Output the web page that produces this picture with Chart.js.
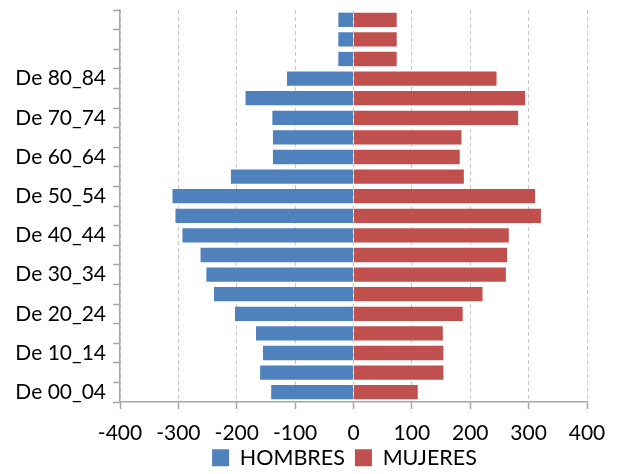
<!DOCTYPE html>
<html>
<head>
<meta charset="utf-8">
<script src="https://cdn.jsdelivr.net/npm/chart.js@4"></script>
<style>
  html, body { margin: 0; padding: 0; background: #fff; }
  #wrap { width: 618px; height: 474px; }
</style>
</head>
<body>
<div id="wrap"><canvas id="c" width="618" height="474"></canvas></div>
<script>
// Age groups, bottom to top
const categories = ['De 00_04','De 05_09','De 10_14','De 15_19','De 20_24','De 25_29','De 30_34','De 35_39','De 40_44','De 45_49','De 50_54','De 55_59','De 60_64','De 65_69','De 70_74','De 75_79','De 80_84','De 85_89','De 90_94','De 95_99'];
// Labels shown on the axis (every other group, top groups unlabeled)
const tickLabels = ['De 00_04','','De 10_14','','De 20_24','','De 30_34','','De 40_44','','De 50_54','','De 60_64','','De 70_74','','De 80_84','','',''];
// Men (plotted as negative values)
const hombres = [-141,-160,-155,-167,-203,-239,-252,-262,-293,-305,-310,-210,-138,-138,-139,-185,-114,-26,-26,-26];
// Women
const mujeres = [110,154,154,153,187,221,261,263,266,321,311,189,182,185,282,294,245,74,74,74];
const xTicks = [-400,-300,-200,-100,0,100,200,300,400];

const FONT = 'Lato';

// Moves the legend so it sits where the reference places it
const legendShift = {
  id: 'legendShift',
  afterLayout(chart) {
    const lg = chart.legend;
    if (!lg) return;
    const dx = 51, dy = -9;
    lg.left += dx; lg.right += dx;
    lg.top += dy; lg.bottom += dy;
  }
};

new Chart(document.getElementById('c'), {
  type: 'bar',
  data: {
    labels: categories,
    datasets: [
      { label: 'HOMBRES', data: hombres, backgroundColor: '#4F81BD', barPercentage: 0.73, categoryPercentage: 1 },
      { label: 'MUJERES', data: mujeres, backgroundColor: '#C0504D', barPercentage: 0.73, categoryPercentage: 1 }
    ]
  },
  plugins: [legendShift],
  options: {
    indexAxis: 'y',
    responsive: false,
    animation: false,
    layout: { padding: { top: 10, right: 31, left: 0, bottom: -13.5 } },
    plugins: {
      tooltip: { enabled: false },
      legend: {
        position: 'bottom',
        labels: { boxWidth: 17, boxHeight: 17, padding: 10, color: '#000', font: { family: FONT, size: 21.5 } }
      }
    },
    scales: {
      x: {
        stacked: true,
        min: xTicks[0], max: xTicks[xTicks.length - 1],
        afterBuildTicks: s => { s.ticks = xTicks.map(v => ({ value: v })); },
        afterFit: s => { s.height = 44; },
        ticks: { color: '#000', font: { family: FONT, size: 21 }, padding: 12, maxRotation: 0 },
        grid: { color: '#c8c8c8', lineWidth: 1, tickLength: 7, tickColor: '#a6a6a6', tickWidth: 1.5, tickBorderDash: [] },
        border: { display: true, color: '#a6a6a6', width: 1.5, dash: [4, 3] }
      },
      y: {
        stacked: true,
        reverse: true,
        afterFit: s => { s.width = 120; },
        ticks: {
          autoSkip: false,
          color: '#000', font: { family: FONT, size: 21, lineHeight: 0.2 }, padding: 7,
          callback: (v, i) => tickLabels[i]
        },
        grid: { drawOnChartArea: false, tickLength: 7, tickColor: '#a6a6a6', tickWidth: 1.5, offset: true },
        border: { display: true, color: '#a6a6a6', width: 1.5 }
      }
    }
  }
});
</script>
</body>
</html>
